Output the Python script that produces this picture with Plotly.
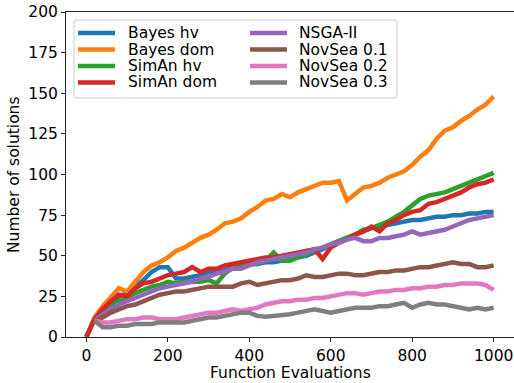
import plotly.graph_objects as go

evals = list(range(0, 1001, 20))

bayes_hv = [0, 11, 16, 21, 25, 27, 31, 35, 40, 43, 43, 36, 36, 37, 38, 40, 40, 41, 43, 44,
            45, 45, 46, 46, 47, 48, 49, 50, 52, 54, 57, 59, 61, 63, 65, 67, 68, 69, 70, 71,
            72, 72, 73, 74, 74, 75, 75, 76, 76, 77, 77]
bayes_dom = [0, 12, 19, 25, 30, 28, 34, 40, 44, 46, 49, 53, 55, 58, 61, 63, 66, 70, 71, 73,
             77, 80, 84, 85, 88, 86, 89, 91, 93, 95, 95, 96, 84, 88, 92, 93, 95, 98, 100, 102,
             106, 111, 115, 122, 127, 129, 133, 136, 140, 143, 148]
siman_hv = [0, 11, 15, 19, 22, 24, 27, 29, 31, 32, 34, 33, 34, 34, 34, 35, 33, 39, 43, 45,
            45, 45, 47, 52, 47, 47, 49, 51, 53, 55, 57, 59, 61, 63, 66, 67, 69, 71, 74, 77,
            81, 85, 87, 88, 89, 91, 93, 95, 97, 99, 101]
siman_dom = [0, 11, 17, 22, 26, 25, 30, 33, 34, 36, 38, 39, 40, 43, 40, 42, 42, 44, 45, 46,
             47, 48, 49, 49, 50, 51, 52, 53, 54, 48, 55, 58, 60, 63, 65, 68, 65, 70, 72, 75,
             77, 78, 82, 83, 85, 87, 89, 92, 94, 95, 97]
nsga2 = [None, 10, 14, 17, 20, 22, 24, 26, 28, 30, 31, 32, 33, 34, 36, 37, 39, 40, 42, 42,
         44, 46, 47, 48, 49, 50, 51, 52, 54, 55, 57, 58, 60, 61, 59, 59, 61, 61, 62, 63,
         65, 63, 64, 65, 66, 68, 70, 72, 73, 74, 75]
novsea_01 = [None, 10, 12, 15, 17, 19, 20, 22, 24, 26, 27, 28, 28, 29, 30, 31, 31, 31, 31, 33,
             34, 32, 33, 34, 35, 35, 36, 38, 37, 37, 38, 39, 39, 38, 38, 39, 40, 40, 41, 41,
             42, 43, 43, 44, 45, 46, 45, 45, 43, 43, 44]
novsea_02 = [None, 10, 9, 9, 10, 11, 11, 12, 12, 11, 11, 11, 12, 13, 14, 15, 15, 16, 17, 16,
             17, 18, 20, 21, 22, 22, 23, 23, 24, 24, 25, 26, 27, 27, 26, 27, 28, 28, 29, 29,
             30, 30, 31, 31, 32, 32, 33, 33, 33, 32, 29]
novsea_03 = [None, 10, 6, 6, 7, 7, 8, 8, 8, 9, 9, 9, 9, 10, 11, 12, 12, 13, 14, 15,
             15, 13, 12.5, 13, 13, 14, 15, 16, 17, 16, 15, 16, 17, 18, 18, 18, 19, 19, 20, 21,
             18, 20, 21, 20, 20, 19, 18, 17, 18, 17, 18]

names = ["Bayes hv", "Bayes dom", "SimAn hv", "SimAn dom",
         "NSGA-II", "NovSea 0.1", "NovSea 0.2", "NovSea 0.3"]
series = [bayes_hv, bayes_dom, siman_hv, siman_dom, nsga2, novsea_01, novsea_02, novsea_03]
colors = ["#1f77b4", "#ff7f0e", "#2ca02c", "#d62728",
          "#9467bd", "#8c564b", "#e377c2", "#7f7f7f"]

FONT = "DejaVu Sans"
FS = 15.5
W, H = 514, 383
ML, MR, MT, MB = 66, 0, 12, 46
PW, PH = W - ML - MR, H - MT - MB


def px(x):
    return (x - ML) / PW


def py(y):
    return (H - MB - y) / PH


fig = go.Figure()
for name, ys, c in zip(names, series, colors):
    fig.add_trace(go.Scatter(x=evals, y=ys, mode="lines", name=name,
                             line=dict(color=c, width=4.5), showlegend=False))

shapes = []
annotations = []

# legend frame (rounded corners)
bx0, bx1, by0, by1 = 74, 397, 20, 98
rr = 3
path = (f"M {px(bx0+rr)},{py(by0)} L {px(bx1-rr)},{py(by0)} "
        f"Q {px(bx1)},{py(by0)} {px(bx1)},{py(by0+rr)} "
        f"L {px(bx1)},{py(by1-rr)} Q {px(bx1)},{py(by1)} {px(bx1-rr)},{py(by1)} "
        f"L {px(bx0+rr)},{py(by1)} Q {px(bx0)},{py(by1)} {px(bx0)},{py(by1-rr)} "
        f"L {px(bx0)},{py(by0+rr)} Q {px(bx0)},{py(by0)} {px(bx0+rr)},{py(by0)} Z")
shapes.append(dict(type="path", xref="paper", yref="paper", path=path,
                   fillcolor="rgba(255,255,255,0.8)", line=dict(color="#cccccc", width=1),
                   layer="above"))

rows_y = [33, 49.5, 66, 82.5]
cols = [(78, 115, 127), (250, 287, 298)]
for i, (name, c) in enumerate(zip(names, colors)):
    col = cols[i // 4]
    yy = rows_y[i % 4]
    shapes.append(dict(type="line", xref="paper", yref="paper",
                       x0=px(col[0]), x1=px(col[1]), y0=py(yy), y1=py(yy),
                       line=dict(color=c, width=4.5), layer="above"))
    annotations.append(dict(xref="paper", yref="paper", x=px(col[2]), y=py(yy),
                            text=name, showarrow=False, xanchor="left", yanchor="middle",
                            height=16, valign="middle", borderpad=0,
                            font=dict(family=FONT, size=FS, color="black")))

# axis titles
annotations.append(dict(xref="paper", yref="paper", x=px(290), y=py(373),
                        text="Function Evaluations", showarrow=False,
                        xanchor="center", yanchor="middle",
                        font=dict(family=FONT, size=FS, color="black")))
annotations.append(dict(xref="paper", yref="paper", x=px(14), y=py(175),
                        text="Number of solutions", showarrow=False, textangle=-90,
                        xanchor="center", yanchor="middle",
                        font=dict(family=FONT, size=FS, color="black")))

fig.update_layout(
    width=W, height=H,
    margin=dict(l=ML, r=MR, t=MT, b=MB, pad=0),
    paper_bgcolor="white", plot_bgcolor="white",
    font=dict(family=FONT, size=FS, color="black"),
    shapes=shapes, annotations=annotations,
    showlegend=False,
)
fig.update_xaxes(range=[-50, 1050], tickvals=[0, 200, 400, 600, 800, 1000],
                 showgrid=False, zeroline=False, showline=True, linecolor="#222",
                 linewidth=1, mirror=True, ticks="outside", ticklen=4, tickwidth=1,
                 tickcolor="#222", tickfont=dict(family=FONT, size=FS, color="black"))
fig.update_yaxes(range=[0, 200], tickvals=[0, 25, 50, 75, 100, 125, 150, 175, 200],
                 showgrid=False, zeroline=False, showline=True, linecolor="#222",
                 linewidth=1, ticks="outside", ticklen=4, tickwidth=1,
                 tickcolor="#222", tickfont=dict(family=FONT, size=FS, color="black"))

fig.write_html("out.html")
